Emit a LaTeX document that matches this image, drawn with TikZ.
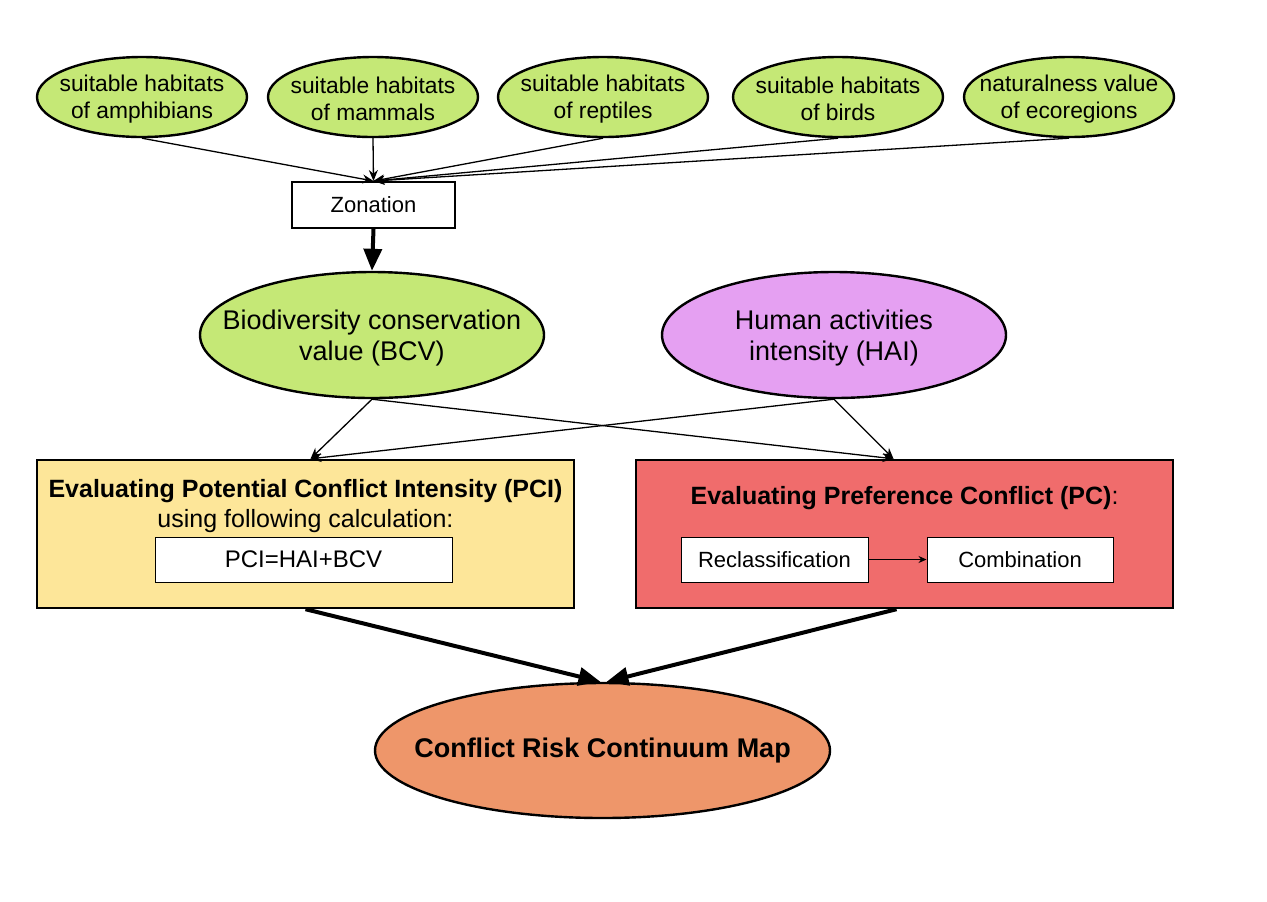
\documentclass[tikz,border=0pt]{standalone}
\usepackage{fontspec}
\setmainfont{Liberation Sans}
\usetikzlibrary{shapes.geometric,arrows.meta,calc}
\definecolor{cgreen}{RGB}{197,232,118}
\definecolor{cpink}{RGB}{229,160,242}
\definecolor{cyellow}{RGB}{253,230,153}
\definecolor{cred}{RGB}{240,108,108}
\definecolor{corange}{RGB}{238,150,106}
\begin{document}
\begin{tikzpicture}[x=0.5pt,y=-0.5pt,
  srcell/.style={ellipse,draw,line width=1.2pt,fill=cgreen,inner sep=0pt,minimum width=105pt,minimum height=40pt},
  srctxt/.style={align=center,font=\fontsize{11.4}{13.5}\selectfont},
  bigell/.style={ellipse,draw,line width=1.2pt,inner sep=0pt,minimum width=172pt,minimum height=63pt},
  bigtxt/.style={align=center,font=\fontsize{13.5}{15.5}\selectfont},
  smallbox/.style={draw,line width=0.5pt,fill=white,inner sep=0pt,minimum height=22.5pt,font=\fontsize{11}{13}\selectfont},
  bigbox/.style={draw,line width=1.2pt,inner sep=0pt,minimum width=268.5pt,minimum height=74pt},
  thin/.style={line width=0.65pt,-{Stealth[length=5.5pt,width=4.5pt]}},
  thick/.style={line width=2pt,-{Triangle[length=11pt,width=9pt]}}
]
\useasboundingbox (0,0) rectangle (1267,901);
\fill[white] (0,0) rectangle (1267,901);

% top sources
\node[srcell] (amph) at (142,97) {};
\node[srctxt] (amphT) at ($(amph)+(0,2)$) {suitable habitats\\of amphibians};
\node[srcell] (mamm) at (373,97) {};
\node[srctxt] (mammT) at ($(mamm)+(0,2)$) {suitable habitats\\of mammals};
\node[srcell] (rept) at (603,97) {};
\node[srctxt] (reptT) at ($(rept)+(0,2)$) {suitable habitats\\of reptiles};
\node[srcell] (bird) at (838,97) {};
\node[srctxt] (birdT) at ($(bird)+(0,2)$) {suitable habitats\\of birds};
\node[srcell] (ecor) at (1069,97) {};
\node[srctxt] (ecorT) at ($(ecor)+(0,2)$) {naturalness value\\of ecoregions};

% zonation
\node[draw,line width=1pt,fill=white,minimum width=81.5pt,minimum height=23pt,inner sep=0pt,font=\fontsize{11}{13}\selectfont] (zon) at (373.5,205) {Zonation};

\foreach \s in {amph,mamm,rept,bird,ecor}
  \draw[thin] (\s.south) -- (zon.north);

% BCV and HAI
\node[bigell,fill=cgreen] (bcv) at (372,335) {};
\node[bigtxt] (bcvT) at ($(bcv)+(0,3)$) {Biodiversity conservation\\value (BCV)};
\node[bigell,fill=cpink] (hai) at (834,335) {};
\node[bigtxt] (haiT) at ($(hai)+(0,3)$) {Human activities\\intensity (HAI)};

\draw[thick] (zon.south) -- (bcv.north);

% PCI box
\node[bigbox,fill=cyellow] (pci) at (305.5,534) {};
\node[font=\fontsize{12.5}{15}\selectfont\bfseries] (pciT) at (305.5,491) {Evaluating Potential Conflict Intensity (PCI)};
\node[font=\fontsize{12.5}{15}\selectfont] (pciS) at (305.5,521) {using following calculation:};
\node[smallbox,minimum width=148.5pt,font=\fontsize{12}{14}\selectfont] (form) at (303.5,559.5) {PCI=HAI+BCV};

% PC box
\node[bigbox,fill=cred] (pc) at (904.5,534) {};
\node[font=\fontsize{12.5}{15}\selectfont] (pcT) at (904.5,498) {\textbf{Evaluating Preference Conflict (PC)}:};
\node[smallbox,minimum width=93.5pt] (recl) at (774.5,559.5) {Reclassification};
\node[smallbox,minimum width=93pt] (comb) at (1020,559.5) {Combination};
\draw[line width=0.5pt,-{Stealth[length=4pt,width=3.5pt]}] (recl.east) -- (comb.west);

% crossing arrows
\draw[thin] (bcv.south) -- ($(pci.north)+(5,0)$);
\draw[thin] (bcv.south) -- ($(pc.north)+(-11,0)$);
\draw[thin] (hai.south) -- ($(pci.north)+(5,0)$);
\draw[thin] (hai.south) -- ($(pc.north)+(-11,0)$);

% result
\node[ellipse,draw,line width=1.2pt,fill=corange,inner sep=0pt,minimum width=227.5pt,minimum height=67.5pt] (crc) at (602.5,750.5) {};
\node[font=\fontsize{13.5}{16}\selectfont\bfseries] (crcT) at (crc) {Conflict Risk Continuum Map};

\draw[thick] (pci.south) -- ($(crc.north)+(-2,0)$);
\draw[thick] ($(pc.south)+(-8,0)$) -- ($(crc.north)+(4,0)$);
\end{tikzpicture}
\end{document}
